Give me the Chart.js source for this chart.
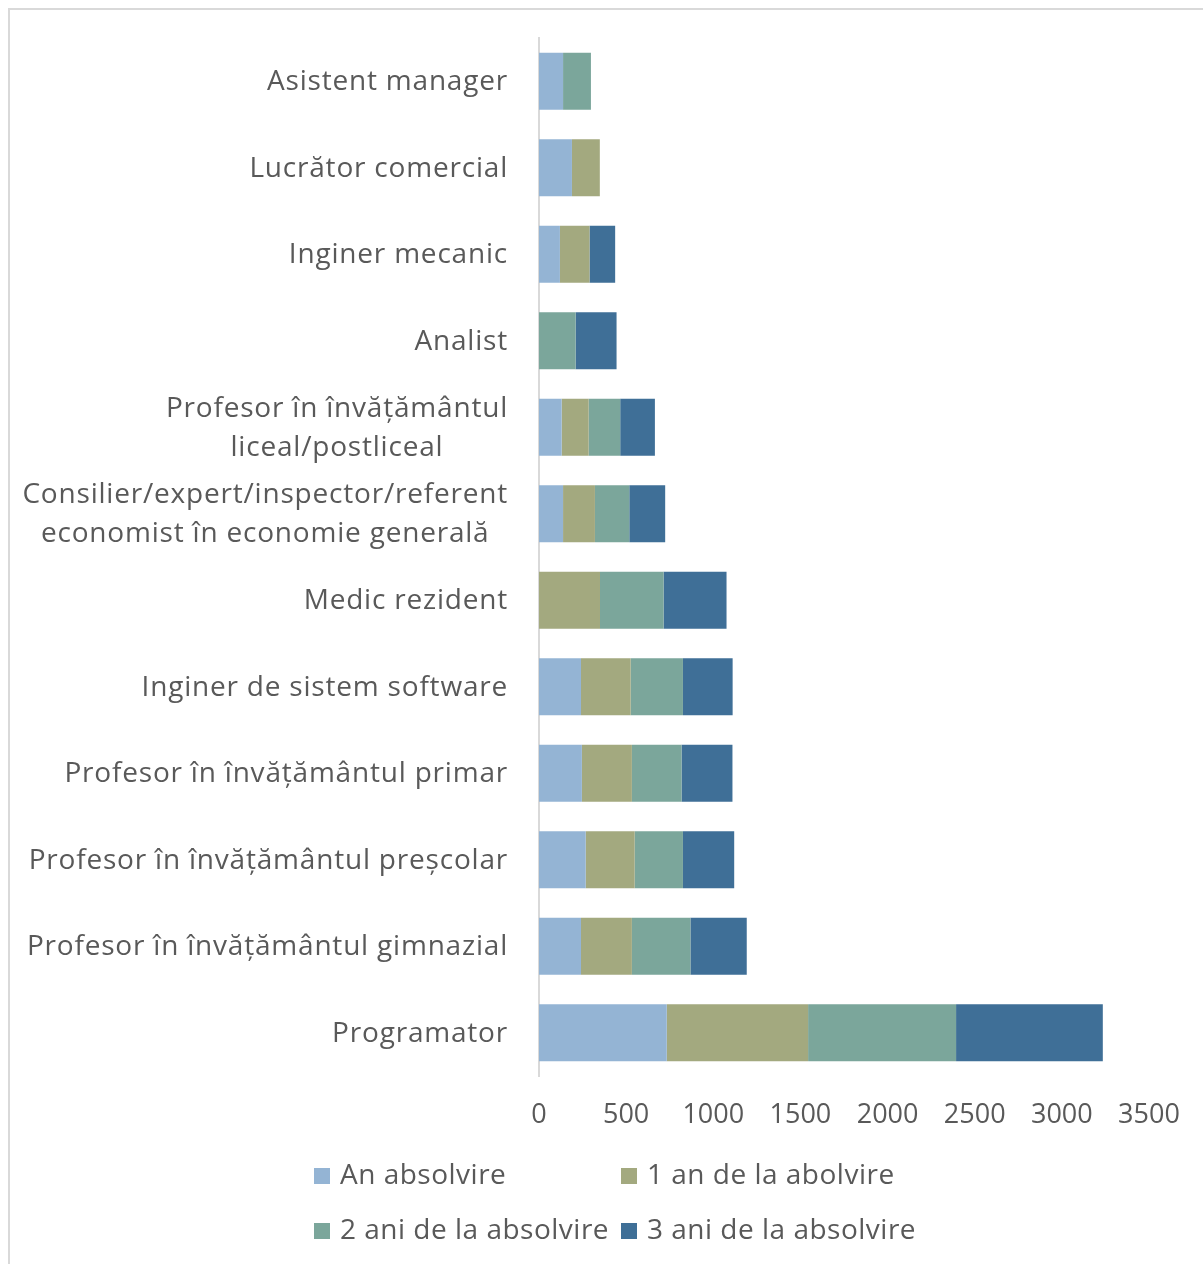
<!DOCTYPE html>
<html>
<head>
<meta charset="utf-8">
<script src="https://cdn.jsdelivr.net/npm/chart.js@4.4.1/dist/chart.umd.min.js"></script>
<style>
  html, body { margin: 0; padding: 0; background: #fff; overflow: hidden; }
  #frame {
    position: absolute; left: 8px; top: 8px;
    width: 1200px; height: 1260px;
    border-left: 2px solid #d9d9d9; border-top: 2px solid #d9d9d9;
  }
  #wrap { position: absolute; left: 0; top: 0; width: 1193px; height: 1254px; }
</style>
</head>
<body>
<div id="frame"><div id="wrap"><canvas id="bar-chart"></canvas></div></div>
<script>
// categories, top to bottom
const categories = [
  'Asistent manager',
  'Lucrător comercial',
  'Inginer mecanic',
  'Analist',
  ['Profesor în învățământul', 'liceal/postliceal'],
  ['Consilier/expert/inspector/referent', 'economist în economie generală'],
  'Medic rezident',
  'Inginer de sistem software',
  'Profesor în învățământul primar',
  'Profesor în învățământul preșcolar',
  'Profesor în învățământul gimnazial',
  'Programator'
];

const seriesNames = ['An absolvire', '1 an de la abolvire', '2 ani de la absolvire', '3 ani de la absolvire'];
const seriesColors = ['#94b4d4', '#a3a97f', '#7ba69b', '#3f6f97'];

const anAbsolvire   = [138, 189, 120,   0, 130, 138,   0, 241, 246, 268, 241, 733];
const unAn          = [  0, 160, 170,   0, 155, 183, 350, 285, 287, 281, 292, 811];
const doiAni        = [160,   0,   0, 210, 181, 197, 365, 300, 285, 277, 336, 849];
const treiAni       = [  0,   0, 147, 235, 199, 206, 361, 285, 292, 294, 323, 842];

const xTicks = [0, 500, 1000, 1500, 2000, 2500, 3000, 3500];

const textColor = '#595959';
const fontFamily = '"Open Sans", sans-serif';

const seriesValues = [anAbsolvire, unAn, doiAni, treiAni];
const datasets = seriesValues.map((vals, i) => ({
  label: seriesNames[i],
  data: vals,
  backgroundColor: seriesColors[i],
  borderWidth: 0,
  barPercentage: 0.66,
  categoryPercentage: 1.0
}));

// y labels: block right-aligned, lines centred inside the block
const yLabelsPlugin = {
  id: 'yLabels',
  afterDraw(chart) {
    const ctx = chart.ctx;
    const y = chart.scales.y;
    const right = 498;
    const lineH = 39;
    ctx.save();
    ctx.font = '28px ' + fontFamily;
    ctx.letterSpacing = '0.8px';
    ctx.fillStyle = textColor;
    ctx.textBaseline = 'middle';
    ctx.textAlign = 'center';
    categories.forEach((lab, i) => {
      const lines = Array.isArray(lab) ? lab : [lab];
      const w = Math.max(...lines.map(l => ctx.measureText(l).width));
      const cx = right - w / 2;
      const cy = y.getPixelForTick(i) + 1;
      lines.forEach((l, k) => {
        ctx.fillText(l, cx, cy + (k - (lines.length - 1) / 2) * lineH);
      });
    });
    ctx.restore();
  }
};

// legend in a 2x2 grid
const legendPlugin = {
  id: 'gridLegend',
  afterDraw(chart) {
    const ctx = chart.ctx;
    const cols = [304, 611];
    const rows = [1166, 1221];
    ctx.save();
    ctx.font = '28px ' + fontFamily;
    ctx.letterSpacing = '0.5px';
    ctx.textBaseline = 'middle';
    ctx.textAlign = 'left';
    seriesNames.forEach((name, i) => {
      const x = cols[i % 2];
      const yy = rows[Math.floor(i / 2)];
      ctx.fillStyle = seriesColors[i];
      ctx.fillRect(x, yy - 8, 16, 16);
      ctx.fillStyle = textColor;
      ctx.fillText(name, x + 26, yy);
    });
    ctx.restore();
  }
};

new Chart(document.getElementById('bar-chart'), {
  type: 'bar',
  data: { labels: categories, datasets },
  options: {
    indexAxis: 'y',
    responsive: true,
    maintainAspectRatio: false,
    animation: false,
    layout: { padding: { left: 0, right: 54, top: 28, bottom: 120 } },
    plugins: {
      legend: { display: false },
      tooltip: { enabled: false }
    },
    scales: {
      x: {
        stacked: true,
        min: 0,
        max: 3500,
        afterBuildTicks(scale) {
          scale.ticks = xTicks.map(v => ({ value: v }));
        },
        afterFit(scale) {
          scale.paddingLeft = 0;
          scale.paddingRight = 0;
          scale.height = 68;
        },
        grid: { display: false },
        border: { display: false },
        ticks: {
          color: textColor,
          font: { family: fontFamily, size: 27 },
          padding: 15,
          maxRotation: 0,
          callback: (v) => String(v)
        }
      },
      y: {
        stacked: true,
        afterFit(scale) { scale.width = 529; },
        grid: { display: false },
        border: { display: true, color: '#d9d9d9', width: 2 },
        ticks: { display: false }
      }
    }
  },
  plugins: [yLabelsPlugin, legendPlugin]
});
</script>
</body>
</html>
